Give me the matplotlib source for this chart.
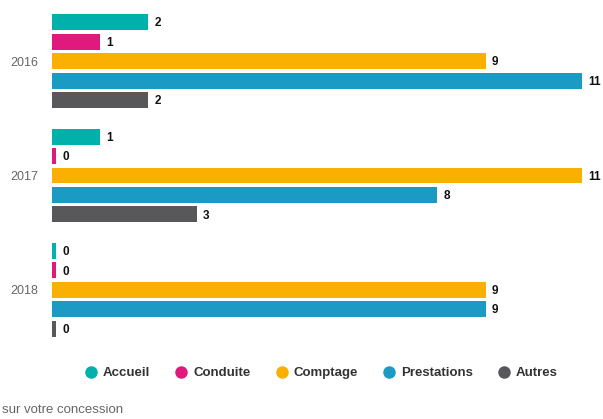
import matplotlib
matplotlib.use("Agg")
import matplotlib.pyplot as plt
import numpy as np
from matplotlib.lines import Line2D

years = ["2016", "2017", "2018"]
series = ["Accueil", "Conduite", "Comptage", "Prestations", "Autres"]
accueil = [2, 1, 0]
conduite = [1, 0, 0]
comptage = [9, 11, 9]
prestations = [11, 8, 9]
autres = [2, 3, 0]
colors = ["#00b0aa", "#e0197d", "#f9b000", "#1b9ac3", "#58585a"]

values = [accueil, conduite, comptage, prestations, autres]

plt.rcParams['font.family'] = ['Liberation Sans', 'DejaVu Sans']
W, H = 603, 419
fig = plt.figure(figsize=(W / 100, H / 100), dpi=100)
ax = fig.add_axes([52 / W, 1 - 347 / H, 530 / W, 343 / H])

slot = 19.5 / 114.5
bh = 16 / 114.5
y = np.arange(len(years))
for i, (name, vals, c) in enumerate(zip(series, values, colors)):
    pos = y + (i - 2) * slot
    v = np.array(vals, dtype=float)
    ax.barh(pos, np.maximum(v, 0.085), height=bh, color=c, edgecolor='none')
    for p, val in zip(pos, v):
        ax.text(max(val, 0.085) + 0.13, p + 0.01, f"{int(val)}", va='center', ha='left',
                fontsize=8.5, fontweight='bold', color='#111111', clip_on=False)

ax.set_xlim(0, 11)
ax.set_ylim(2.5, -0.5)
ax.set_yticks(y)
ax.set_yticklabels(years, fontsize=9, color='#666666')
ax.tick_params(axis='y', length=0, pad=10)
ax.set_xticks([])
for s in ax.spines.values():
    s.set_visible(False)

handles = [Line2D([0], [0], marker='o', linestyle='none', markersize=9,
                  markerfacecolor=c, markeredgecolor='none') for c in colors]
leg = fig.legend(handles, series, loc='center', bbox_to_anchor=(321 / W, 1 - 373 / H),
                 ncol=5, frameon=False, handletextpad=0.4, columnspacing=1.85,
                 prop={'weight': 'bold', 'size': 9.5}, handlelength=1.0)
for t in leg.get_texts():
    t.set_color('#333333')

fig.text(2 / W, 1 - 410 / H, "sur votre concession", fontsize=9.5, color='#666666',
         va='center', ha='left')

fig.savefig("out.png", dpi=100)
